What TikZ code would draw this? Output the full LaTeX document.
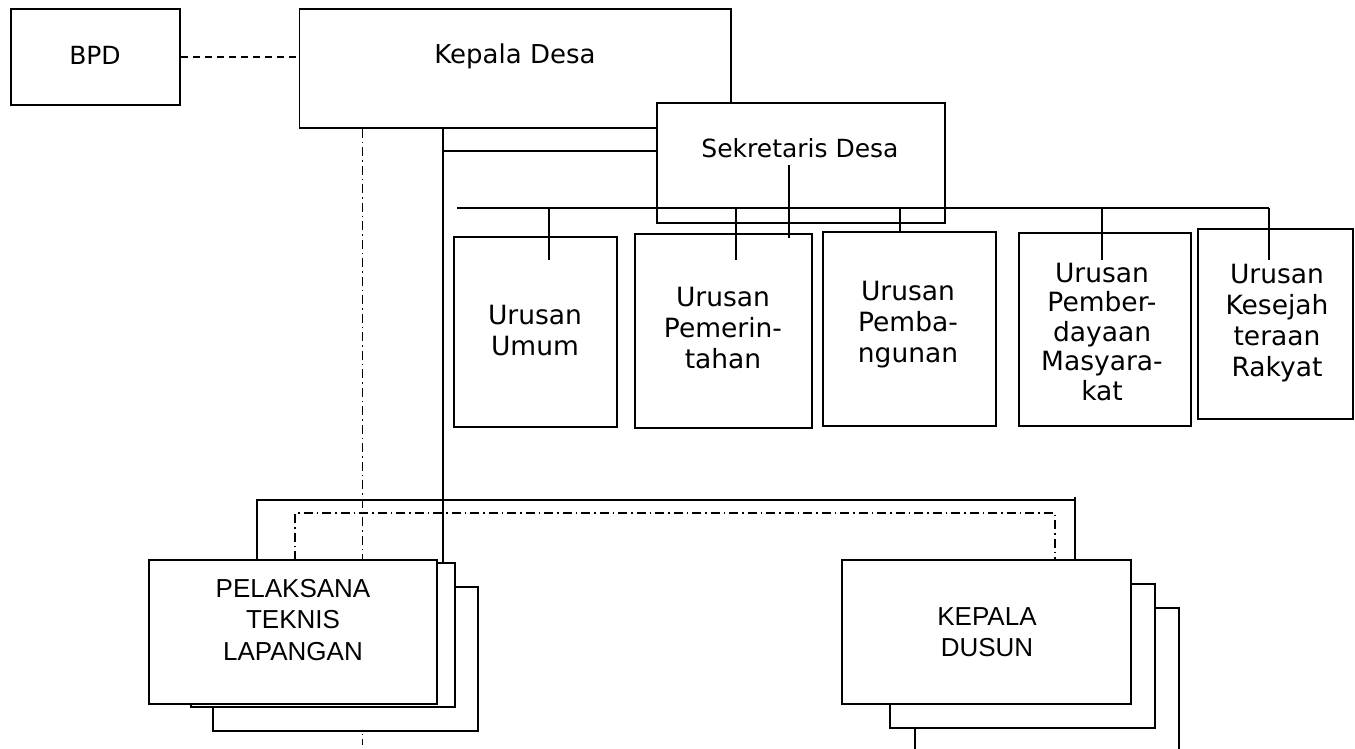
\documentclass[tikz,border=0pt]{standalone}
\usepackage{fontspec}
\setmainfont{DejaVu Sans}
\newfontfamily\arialf{Liberation Sans}
\begin{document}
\begin{tikzpicture}[x=1pt,y=-1pt,
  box/.style={draw,line width=1.9pt,fill=white,inner sep=0pt,rectangle},
  txt/.style={inner sep=0pt,align=center,font=\fontsize{26.5}{31}\selectfont},
  atxt/.style={inner sep=0pt,align=center,font=\arialf\fontsize{26}{31.5}\selectfont},
  conn/.style={line width=1.9pt},
  dsh/.style={line width=1.9pt,dash pattern=on 7pt off 5pt},
  ddot/.style={line width=1.7pt,dash pattern=on 9pt off 4pt on 1.5pt off 4pt}]
\useasboundingbox (0,0) rectangle (1355,749);
% coordinates for free ends
\coordinate (dlow) at (362.5,745);
\coordinate (vsol) at (443,0);
\coordinate (busL) at (457,208);
\coordinate (busR) at (1269,208);
\coordinate (brL) at (257,500);
\coordinate (brR) at (1075,500);
\coordinate (ddL) at (295,513);
\coordinate (ddR) at (1055,513);
\coordinate (sekA) at (789,165);
\coordinate (sekB) at (789,238);
% top boxes
\node[box,minimum width=169pt,minimum height=96pt] (bpd) at (95.5,57) {};
\node[txt,font=\fontsize{25}{30}\selectfont] (bpdT) at (95,55) {BPD};
\node[box,minimum width=431.5pt,minimum height=119pt] (kd) at (515.25,68.5) {};
\node[txt,font=\fontsize{26}{31}\selectfont] (kdT) at (515,56) {Kepala Desa};
\draw[dsh] (bpd.east) -- (bpd.east -| kd.west);
% long dash-dot from Kepala Desa
\draw[ddot] (kd.south -| dlow) -- (dlow);
% solid line down from Kepala Desa
\draw[conn] (kd.south -| vsol) -- (443,563);
\node[box,minimum width=288pt,minimum height=120pt] (sek) at (801,163) {};
\node[txt,font=\fontsize{25}{30}\selectfont] (sekT) at (800,148) {Sekretaris Desa};
\draw[conn] (443,151) -- (sek.west |- 443,151);
% urusan boxes
\node[box,minimum width=163pt,minimum height=190pt] (umum) at (535.5,332) {};
\node[txt] (umumT) at (535,331) {Urusan\\Umum};
\node[box,minimum width=177pt,minimum height=194pt] (pem) at (723.5,331) {};
\node[txt] (pemT) at (723,328) {Urusan\\Pemerin-\\tahan};
\node[box,minimum width=173pt,minimum height=194pt] (pemb) at (909.5,329) {};
\node[txt] (pembT) at (908,325) {Urusan\\Pemba-\\ngunan};
\node[box,minimum width=172pt,minimum height=193pt] (pber) at (1105,329.5) {};
\node[txt,font=\fontsize{26.5}{29.5}\selectfont] (pberT) at (1102,332) {Urusan\\Pember-\\dayaan\\Masyara-\\kat};
\node[box,minimum width=155pt,minimum height=190pt] (kes) at (1275.5,324) {};
\node[txt] (kesT) at (1277,323) {Urusan\\Kesejah\\teraan\\Rakyat};
% bus and drops
\draw[conn] (busL) -- (busR);
\draw[conn] (549,208) -- (549,260);
\draw[conn] (736,208) -- (736,260);
\draw[conn] (900,208) -- (pemb.north -| 900,208);
\draw[conn] (1102,208) -- (1102,260);
\draw[conn] (busR) -- (1269,260);
\draw[conn] (sekA) -- (sekB);
% brackets to the lower units
\draw[conn] (257,560) -- (brL) -- (brR) -- (1075,560);
\draw[conn] (1075,497) -- (brR);
\draw[ddot] (295,560) -- (ddL) -- (ddR) -- (1055,560);
% Pelaksana Teknis Lapangan stack
\node[box,minimum width=265pt,minimum height=144pt] (pl3) at (345.5,659) {};
\node[box,minimum width=264pt,minimum height=144pt] (pl2) at (323,635) {};
\node[box,minimum width=288pt,minimum height=144pt] (pl1) at (293,632) {};
\node[atxt] (plT) at (293,620) {PELAKSANA\\TEKNIS\\LAPANGAN};
% Kepala Dusun stack
\fill[white] (915,608) rectangle (1179,749);
\draw[line width=1.9pt] (915,749) -- (915,608) -- (1179,608) -- (1179,749);
\node[box,minimum width=265pt,minimum height=144pt] (kdu2) at (1022.5,656) {};
\node[box,minimum width=289pt,minimum height=144pt] (kdu1) at (986.5,632) {};
\node[atxt] (kduT) at (987,632) {KEPALA\\DUSUN};
\end{tikzpicture}
\end{document}
